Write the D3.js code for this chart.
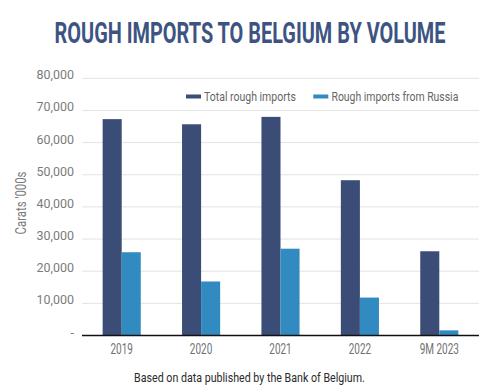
<!DOCTYPE html>
<html><head><meta charset="utf-8">
<script src="https://cdn.jsdelivr.net/npm/d3@7"></script>
<style>
html,body{margin:0;padding:0;background:#fff;}
svg{display:block;}
text{font-family:Roboto,"Noto Sans",sans-serif;}
</style></head>
<body><svg id="c" width="500" height="390"></svg>
<script>
const categories = ["2019","2020","2021","2022","9M 2023"];
const seriesNames = ["Total rough imports","Rough imports from Russia"];
const totalImports = [67300, 65700, 68000, 48300, 26200];
const russiaImports = [25900, 16800, 27000, 11800, 1600];
const yTicks = [0,10000,20000,30000,40000,50000,60000,70000,80000];
const colors = ["#3b4d76","#318bc1"];

const svg = d3.select("#c");
const mLeft = 82, mRight = 479, mTop = 78.3, mBottom = 335.5;

const x = d3.scaleBand().domain(categories).range([mLeft,mRight]).paddingInner(0.52).paddingOuter(0.26);
const xs = d3.scaleBand().domain(seriesNames).range([0,x.bandwidth()]);
const y = d3.scaleLinear().domain([0,80000]).range([mBottom,mTop]);

function natW(node){ return node.getComputedTextLength(); }

// title
const title = svg.append("text").attr("text-anchor","middle")
  .attr("font-weight","bold").attr("font-size",29.5).attr("fill","#3d5482")
  .text("ROUGH IMPORTS TO BELGIUM BY VOLUME");
const sT = 391 / natW(title.node());
title.attr("transform",`translate(250,42.7) scale(${sT},1)`);

// gridlines
svg.append("g").selectAll("line").data(yTicks.filter(d=>d>0)).join("line")
  .attr("x1",mLeft).attr("x2",mRight).attr("y1",d=>y(d)).attr("y2",d=>y(d))
  .attr("stroke","#e3e3e3").attr("stroke-width",1);

// y axis labels
const yAxis = d3.axisLeft(y).tickValues(yTicks).tickSize(0).tickPadding(8)
  .tickFormat(d=> d===0 ? "-" : d3.format(",")(d));
const ya = svg.append("g").attr("transform",`translate(${mLeft},0)`).call(yAxis);
ya.select(".domain").remove();
const yTexts = ya.selectAll("text").attr("font-size",13).attr("fill","#7b7b7b").attr("dy",0.5);
const yRef = yTexts.filter(d=>d===80000).node();
const sY = 37.5 / natW(yRef);
yTexts.attr("x",-8/sY).attr("transform",`scale(${sY},1)`);

// y title
const yt = svg.append("text").attr("text-anchor","middle").attr("font-size",14)
  .attr("fill","#7b7b7b").text("Carats '000s");
const sYT = 63 / natW(yt.node());
yt.attr("transform",`translate(25.5,203) rotate(-90) scale(${sYT},1)`);

// bars
const data = categories.map((c,i)=>({cat:c, vals:[totalImports[i], russiaImports[i]]}));
const g = svg.append("g").selectAll("g").data(data).join("g")
  .attr("transform",d=>`translate(${x(d.cat)},0)`);
g.selectAll("rect").data(d=>d.vals.map((v,j)=>({name:seriesNames[j],v,j}))).join("rect")
  .attr("x",d=>xs(d.name)).attr("width",xs.bandwidth())
  .attr("y",d=>y(d.v)).attr("height",d=>y(0)-y(d.v))
  .attr("fill",d=>colors[d.j]);

// baseline
svg.append("line").attr("x1",mLeft).attr("x2",mRight).attr("y1",y(0)).attr("y2",y(0))
  .attr("stroke","#111").attr("stroke-width",1.6);

// x axis labels
const xAxis = d3.axisBottom(x).tickSize(0);
const xa = svg.append("g").attr("transform",`translate(0,${mBottom})`).call(xAxis);
xa.select(".domain").remove();
const xTexts = xa.selectAll("text").attr("font-size",14.5).attr("fill","#707070")
  .attr("y",18.5).attr("dy",0);
const sX = 22.5 / natW(xTexts.filter(d=>d==="2019").node());
xTexts.attr("transform",`scale(${sX},1)`);

// legend
const legSw = [186, 313.3];
const legTx = [204, 331.5];
const legW = [92, 127];
const lg = svg.append("g");
seriesNames.forEach((name,i)=>{
  lg.append("rect").attr("x",legSw[i]).attr("y",94.5).attr("width",15).attr("height",4)
    .attr("fill",colors[i]);
  const t = lg.append("text").attr("font-size",12.5).attr("fill","#666").text(name);
  const s = legW[i] / natW(t.node());
  t.attr("transform",`translate(${legTx[i]},100.5) scale(${s},1)`);
});

// caption
const cap = svg.append("text").attr("text-anchor","middle")
  .attr("font-size",12.5).attr("fill","#2a2a2a").text("Based on data published by the Bank of Belgium.");
const sC = 231 / natW(cap.node());
cap.attr("transform",`translate(249.5,382) scale(${sC},1)`);
</script></body></html>
